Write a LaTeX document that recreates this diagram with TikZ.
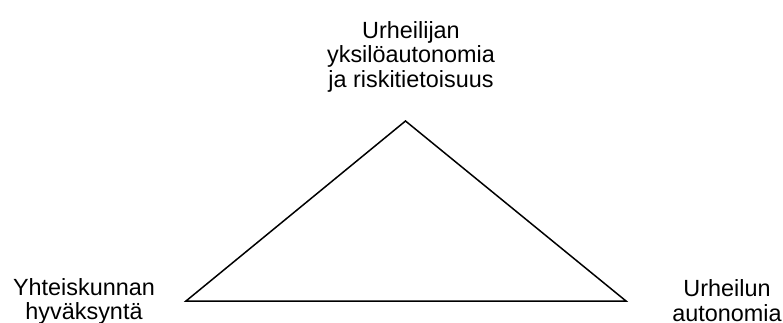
\documentclass[tikz,border=0pt]{standalone}
\usepackage{fontspec}
\setmainfont{Liberation Sans}
\usepackage{tikz}
\usetikzlibrary{positioning}

\begin{document}
\begin{tikzpicture}[
  x=1pt, y=-1pt,
  corner/.style={align=center, inner sep=0pt, anchor=base, font=\fontsize{23.4}{24.4}\selectfont},
  edge/.style={line width=1.5pt, line join=miter}
]
\useasboundingbox (0,0) rectangle (783,322);

\coordinate (apex) at (405.5,121);
\coordinate (baseL) at (186,301);
\coordinate (baseR) at (626,301);

% anchor=base sits on the last line
\node[corner] (athlete) at (411,87.1) {Urheilijan \\ yksilöautonomia \\ ja riskitietoisuus};
\node[corner] (society) at (84,319.4) {Yhteiskunnan \\ hyväksyntä};
\node[corner] (sport) at (727,321) {Urheilun \\ autonomia};

\draw[edge] (apex) -- (baseR) -- (baseL) -- cycle;

\end{tikzpicture}
\end{document}
